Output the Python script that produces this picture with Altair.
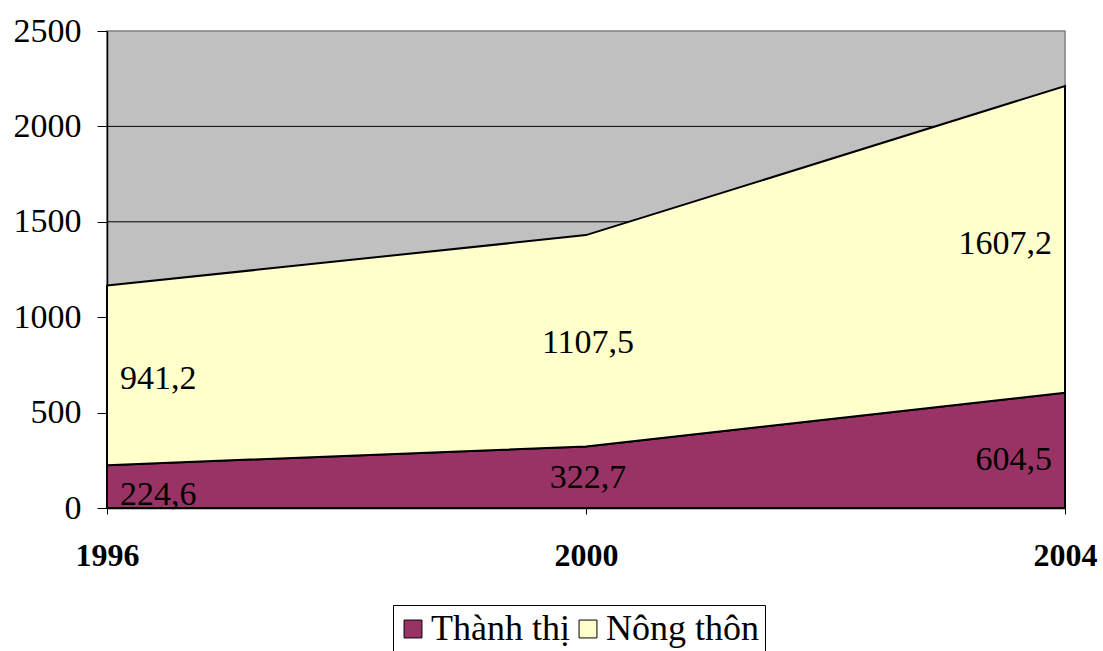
import altair as alt
import pandas as pd

# Population by area type (thousand people)
years = [1996, 2000, 2004]
series = ["Thành thị", "Nông thôn"]
thanh_thi = [224.6, 322.7, 604.5]
nong_thon = [941.2, 1107.5, 1607.2]
colors = ["#993366", "#FFFFCC"]
y_ticks = [0, 500, 1000, 1500, 2000, 2500]
grid_values = [500, 1000, 1500, 2000]

# where each value label sits inside its band (share of the band height)
label_frac = {"Thành thị": [0.30, 0.49, 0.42], "Nông thôn": [0.48, 0.49, 0.485]}

FONT = "Liberation Serif, Times New Roman, DejaVu Serif, serif"
FS = 34

rows = []
for i, yr in enumerate(years):
    rows.append({"year": yr, "series": series[0], "value": thanh_thi[i], "rank": 0})
    rows.append({"year": yr, "series": series[1], "value": nong_thon[i], "rank": 1})
df = pd.DataFrame(rows)

label_rows = []
for i, yr in enumerate(years):
    base = 0.0
    for s, vals in zip(series, [thanh_thi, nong_thon]):
        v = vals[i]
        label_rows.append({
            "year": yr,
            "pos": base + v * label_frac[s][i],
            "text": f"{v:.1f}".replace(".", ","),
            "col": i,
        })
        base += v
labels = pd.DataFrame(label_rows)

x_scale = alt.Scale(domain=[years[0], years[-1]], nice=False, zero=False)
y_scale = alt.Scale(domain=[0, 2500], nice=False)

grid = alt.Chart(pd.DataFrame({"g": grid_values})).mark_rule(
    color="black", strokeWidth=1
).encode(y=alt.Y("g:Q", scale=y_scale))

areas = alt.Chart(df).mark_area(
    stroke="black", strokeWidth=2, opacity=1
).encode(
    x=alt.X("year:Q", scale=x_scale, title=None,
            axis=alt.Axis(values=years, format="d", labelFont=FONT,
                          labelFontSize=32, labelFontWeight="bold",
                          labelColor="black", labelPadding=26,
                          labelFlush=False, labelOverlap=False,
                          tickSize=6, tickColor="black", domainColor="black",
                          domainWidth=1.5, grid=False)),
    y=alt.Y("value:Q", stack="zero", scale=y_scale, title=None,
            axis=alt.Axis(values=y_ticks, format="d", labelFont=FONT,
                          labelFontSize=FS, labelColor="black",
                          labelPadding=16, tickSize=10, tickColor="black",
                          domainColor="black", domainWidth=1.5, grid=False)),
    color=alt.Color("series:N", scale=alt.Scale(domain=series, range=colors),
                    legend=alt.Legend(
                        title=None, orient="none", legendX=286, legendY=574,
                        direction="horizontal", strokeColor="black",
                        padding=6, symbolType="square", symbolSize=320,
                        symbolOffset=-4,
                        symbolStrokeColor="black", symbolStrokeWidth=1,
                        symbolOpacity=1, labelFont=FONT, labelFontSize=36,
                        labelColor="black", labelOffset=0, columnPadding=4)),
    order=alt.Order("rank:Q"),
)

def text_layer(col, align, dx):
    return alt.Chart(labels[labels["col"] == col]).mark_text(
        font=FONT, fontSize=FS, color="black", align=align,
        baseline="middle", dx=dx
    ).encode(
        x=alt.X("year:Q", scale=x_scale),
        y=alt.Y("pos:Q", scale=y_scale),
        text="text:N",
    )

chart = alt.layer(
    grid, areas,
    text_layer(0, "left", 13),
    text_layer(1, "center", 2),
    text_layer(2, "right", -13),
).properties(
    width=958, height=477,
    autosize=alt.AutoSizeParams(type="none"),
    padding={"left": 107, "top": 31, "right": 38, "bottom": 143},
    background="white",
).configure_view(
    fill="#C0C0C0", stroke="#808080", strokeWidth=1.5
)

chart.save("out.html", embed_options={"renderer": "svg", "actions": False})
